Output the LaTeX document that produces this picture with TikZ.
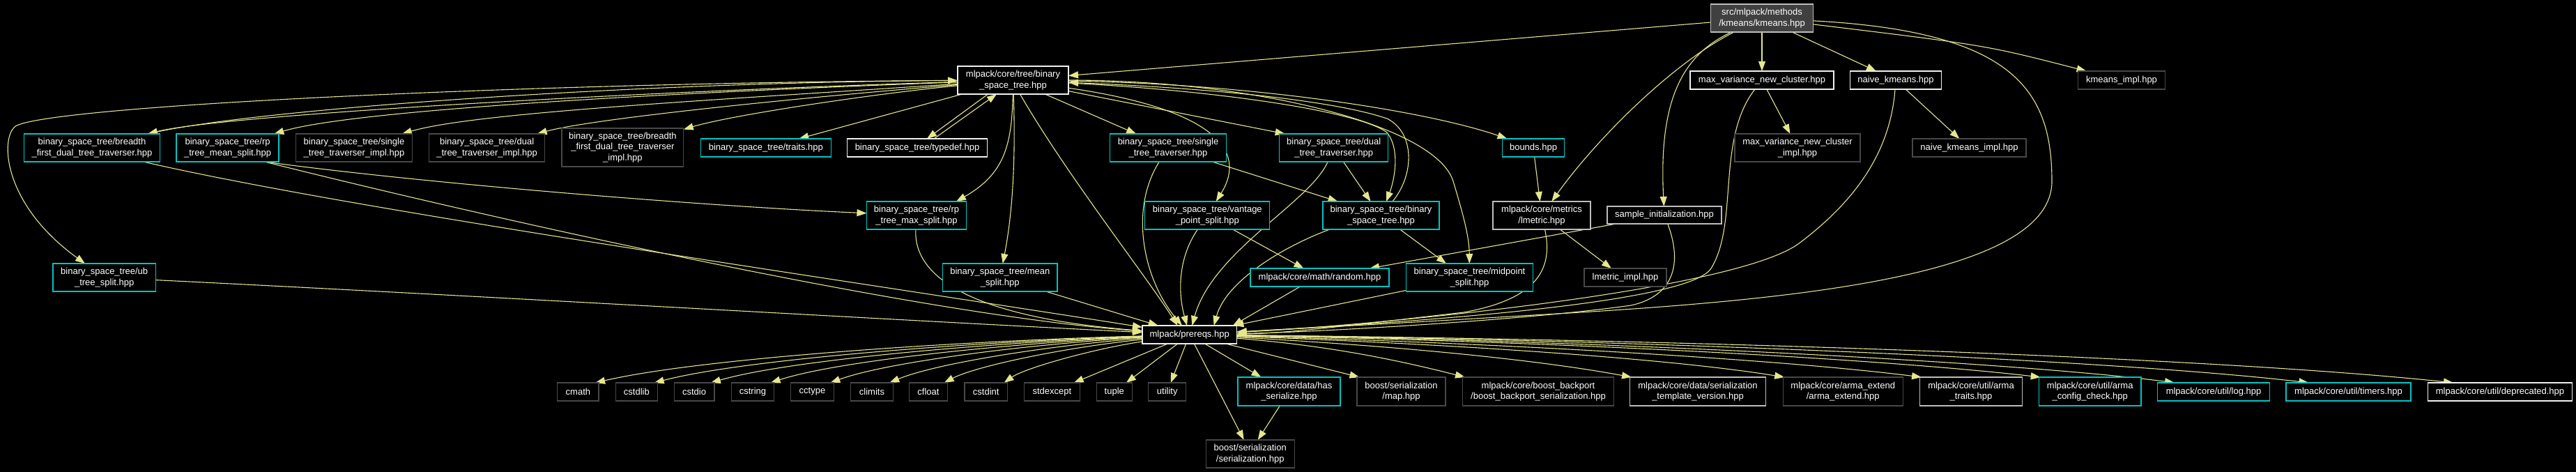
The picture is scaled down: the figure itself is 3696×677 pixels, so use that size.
\documentclass[tikz,border=0pt]{standalone}
\usepackage{fontspec}
\setmainfont{Liberation Sans}
\usetikzlibrary{arrows.meta}
\definecolor{edgecol}{HTML}{E6E68C}
\definecolor{cyanb}{HTML}{00C4C4}
\definecolor{whiteb}{HTML}{F0F0F0}
\definecolor{lgrayb}{HTML}{BDBDBD}
\definecolor{grayb}{HTML}{484848}
\definecolor{rootfill}{HTML}{404040}
\pgfdeclarelayer{back}
\pgfdeclarelayer{edges}
\pgfsetlayers{back,edges,main}
\tikzset{
  nd/.style={rectangle, fill=black, text=white, inner sep=0pt, outer sep=0pt, align=center, line width=1.3pt, font=\fontsize{13}{15.3}\selectfont},
  cyn/.style={nd, draw=cyanb},
  wht/.style={nd, draw=whiteb},
  lgr/.style={nd, draw=lgrayb},
  gry/.style={nd, draw=grayb},
  rootn/.style={nd, draw=lgrayb, fill=rootfill},
  sz/.style 2 args={minimum width=#1pt, minimum height=#2pt},
  e/.style={draw=edgecol, line width=1.1pt, -{Triangle[length=14pt,width=10pt]}},
}
\begin{document}
\begin{tikzpicture}[x=1pt,y=-1pt]
\begin{pgfonlayer}{back}
\fill[black] (0,0) rectangle (3696,677);
\end{pgfonlayer}
\useasboundingbox (0,0) rectangle (3696,677);
% row 0/1
\node[rootn, sz={147}{40}] (kmeans) at (2528,26) {src/mlpack/methods\\/kmeans/kmeans.hpp};
\node[wht, sz={159}{40}] (bst) at (1453.5,115) {mlpack/core/tree/binary\\\_space\_tree.hpp};
\node[wht, sz={206}{26}] (maxvar) at (2528,115) {max\_variance\_new\_cluster.hpp};
\node[wht, sz={131}{26}] (naive) at (2720,115) {naive\_kmeans.hpp};
\node[gry, sz={125}{26}] (kmeansimpl) at (3044,115) {kmeans\_impl.hpp};
% row 2
\node[cyn, sz={194.5}{40}] (bfdt) at (132,212) {binary\_space\_tree/breadth\\\_first\_dual\_tree\_traverser.hpp};
\node[cyn, sz={147}{40}] (rpmean) at (326.6,212) {binary\_space\_tree/rp\\\_tree\_mean\_split.hpp};
\node[gry, sz={167.6}{40}] (singleimpl) at (508,212) {binary\_space\_tree/single\\\_tree\_traverser\_impl.hpp};
\node[gry, sz={165.7}{40}] (dualimpl) at (698.6,212) {binary\_space\_tree/dual\\\_tree\_traverser\_impl.hpp};
\node[gry, sz={174.8}{55}] (bfdtimpl) at (893.4,211.5) {binary\_space\_tree/breadth\\\_first\_dual\_tree\_traverser\\\_impl.hpp};
\node[cyn, sz={187}{26}] (traits) at (1098.8,212) {binary\_space\_tree/traits.hpp};
\node[wht, sz={200.5}{26}] (typedef) at (1316,212) {binary\_space\_tree/typedef.hpp};
\node[cyn, sz={167}{40}] (singletrav) at (1676,212) {binary\_space\_tree/single\\\_tree\_traverser.hpp};
\node[cyn, sz={156}{40}] (dualtrav) at (1913.7,212) {binary\_space\_tree/dual\\\_tree\_traverser.hpp};
\node[cyn, sz={89}{26}] (bounds) at (2200,212) {bounds.hpp};
\node[gry, sz={180}{40}] (maxvarimpl) at (2579,212) {max\_variance\_new\_cluster\\\_impl.hpp};
\node[gry, sz={163}{26}] (naiveimpl) at (2825.5,212) {naive\_kmeans\_impl.hpp};
% row 3
\node[cyn, sz={143}{40}] (rpmax) at (1315,309) {binary\_space\_tree/rp\\\_tree\_max\_split.hpp};
\node[cyn, sz={179}{40}] (vantage) at (1732.3,309) {binary\_space\_tree/vantage\\\_point\_split.hpp};
\node[cyn, sz={167}{40}] (bst2) at (1981.5,309) {binary\_space\_tree/binary\\\_space\_tree.hpp};
\node[lgr, sz={140}{40}] (lmetric) at (2212,309) {mlpack/core/metrics\\/lmetric.hpp};
\node[lgr, sz={164}{25}] (sampleinit) at (2388,308.5) {sample\_initialization.hpp};
% row 4
\node[cyn, sz={147.5}{40}] (ubtree) at (149.7,398) {binary\_space\_tree/ub\\\_tree\_split.hpp};
\node[cyn, sz={164.5}{40}] (meansplit) at (1434.8,398) {binary\_space\_tree/mean\\\_split.hpp};
\node[cyn, sz={199}{26}] (random) at (1893.5,398) {mlpack/core/math/random.hpp};
\node[cyn, sz={182}{40}] (midpoint) at (2108.5,398) {binary\_space\_tree/midpoint\\\_split.hpp};
\node[gry, sz={118}{26}] (lmetricimpl) at (2332,398) {lmetric\_impl.hpp};
% prereqs
\node[wht, sz={135.6}{26}] (prereqs) at (1706.7,480) {mlpack/prereqs.hpp};
% bottom row
\node[gry, sz={59.3}{26}] (cmath) at (829.4,562) {cmath};
\node[gry, sz={60.5}{26}] (cstdlib) at (913.4,562) {cstdlib};
\node[gry, sz={57.7}{26}] (cstdio) at (996,562) {cstdio};
\node[gry, sz={61.3}{26}] (cstring) at (1080,562) {cstring};
\node[gry, sz={61.7}{26}] (cctype) at (1165.5,562) {cctype};
\node[gry, sz={60.5}{26}] (climits) at (1251,562) {climits};
\node[gry, sz={55.3}{26}] (cfloat) at (1332,562) {cfloat};
\node[gry, sz={61.7}{26}] (cstdint) at (1414.7,562) {cstdint};
\node[gry, sz={79.5}{26}] (stdexcept) at (1509.4,562) {stdexcept};
\node[gry, sz={51}{26}] (tuple) at (1598.8,562) {tuple};
\node[gry, sz={54.2}{26}] (utility) at (1674.7,562) {utility};
\node[cyn, sz={147}{41}] (hasser) at (1849.5,561.5) {mlpack/core/data/has\\\_serialize.hpp};
\node[gry, sz={127}{41}] (boostmap) at (2010.5,561.5) {boost/serialization\\/map.hpp};
\node[gry, sz={216.7}{41}] (backport) at (2207,561.5) {mlpack/core/boost\_backport\\/boost\_backport\_serialization.hpp};
\node[lgr, sz={195}{41}] (sertempl) at (2436,561.5) {mlpack/core/data/serialization\\\_template\_version.hpp};
\node[gry, sz={172}{41}] (armaext) at (2644.2,561.5) {mlpack/core/arma\_extend\\/arma\_extend.hpp};
\node[lgr, sz={147}{41}] (armatraits) at (2828,561.5) {mlpack/core/util/arma\\\_traits.hpp};
\node[cyn, sz={146.4}{41}] (armaconfig) at (2998.7,561.5) {mlpack/core/util/arma\\\_config\_check.hpp};
\node[cyn, sz={160.7}{26}] (log) at (3176,562) {mlpack/core/util/log.hpp};
\node[cyn, sz={179}{26}] (timers) at (3369.5,562) {mlpack/core/util/timers.hpp};
\node[wht, sz={207.3}{26}] (deprecated) at (3587,562) {mlpack/core/util/deprecated.hpp};
\node[gry, sz={127}{40}] (boostser) at (1793.7,651) {boost/serialization\\/serialization.hpp};

\begin{pgfonlayer}{edges}
% kmeans
\draw[e] (kmeans) -- (bst);
\draw[e] (kmeans) -- (maxvar);
\draw[e] (kmeans) -- (naive);
\draw[e] (kmeans) .. controls (2850,65) .. (kmeansimpl);
\draw[e] (kmeans) .. controls (2890,45) and (2944,130) .. (2944,260) .. controls (2944,400) and (2550,432) .. (2200,452) .. controls (2000,464) and (1850,472) .. (prereqs);
\draw[e] (kmeans) .. controls (2400,90) and (2290,200) .. (lmetric);
\draw[e] (kmeans) .. controls (2410,80) and (2380,150) .. (sampleinit);
% max_var, naive
\draw[e] (maxvar) -- (maxvarimpl);
\draw[e] (maxvar) .. controls (2462,200) and (2495,320) .. (2455,385) .. controls (2420,440) and (1950,466) .. (prereqs);
\draw[e] (naive) -- (naiveimpl);
\draw[e] (naive) .. controls (2712,220) and (2660,290) .. (2580,350) .. controls (2480,420) and (1950,468) .. (prereqs);
% bst to the left
\draw[e] (bst) .. controls (900,132) and (320,165) .. (bfdt);
\draw[e] (bfdt) .. controls (350,158) and (900,118) .. (bst);
\draw[e] (bst) .. controls (800,118) and (90,150) .. (24,180) .. controls (0,192) and (0,290) .. (ubtree);
\draw[e] (bst) .. controls (900,135) and (500,160) .. (rpmean);
\draw[e] (bst) .. controls (1000,145) and (680,162) .. (singleimpl);
\draw[e] (bst) .. controls (1150,140) and (850,170) .. (dualimpl);
\draw[e] (bst) .. controls (1250,135) and (1050,165) .. (bfdtimpl);
\draw[e] (bst) -- (traits);
\draw[e] ([xshift=-36pt]bst.south) -- ([xshift=14pt]typedef.north);
\draw[e] ([xshift=24pt]typedef.north) -- ([xshift=-23.5pt]bst.south);
% bst down / right
\draw[e] (bst) .. controls (1452,210) and (1440,250) .. ([xshift=57pt]rpmax.north);
\draw[e] (bst) .. controls (1458,250) and (1450,320) .. (meansplit);
\draw[e] ([xshift=10pt]bst.south) .. controls (1530,250) and (1640,390) .. ([xshift=-17pt]prereqs.north);
\draw[e] (bst) -- (singletrav);
\draw[e] (bst) .. controls (1700,150) and (1800,200) .. (vantage);
\draw[e] (bst) -- ([xshift=-70pt]dualtrav.north);
\draw[e] (bst) .. controls (1750,130) and (1950,160) .. (1990,190) .. controls (2010,215) and (2000,260) .. (bst2);
\draw[e] (bst2) .. controls (2030,250) and (2030,190) .. (1990,170) .. controls (1900,140) and (1700,125) .. (bst);
\draw[e] (bst) .. controls (1800,120) and (2050,160) .. (bounds);
\draw[e] (bst) .. controls (1800,115) and (2060,180) .. (2085,260) .. controls (2100,310) and (2108,340) .. (midpoint);
% middle rows
\draw[e] (dualtrav) -- ([xshift=-15pt]bst2.north);
\draw[e] (dualtrav) .. controls (1880,290) and (1740,360) .. (prereqs);
\draw[e] (singletrav) -- ([xshift=-62pt]bst2.north);
\draw[e] (singletrav) .. controls (1620,300) and (1640,400) .. (prereqs);
\draw[e] (vantage) -- ([xshift=-23pt]random.north);
\draw[e] (vantage) .. controls (1690,370) and (1690,420) .. (prereqs);
\draw[e] ([xshift=53pt]rpmean.south) .. controls (600,262) and (1000,295) .. (rpmax);
\draw[e] ([xshift=53pt]rpmean.south) .. controls (650,300) and (1300,450) .. (prereqs);
\draw[e] ([xshift=73.6pt]bfdt.south) .. controls (500,300) and (1200,400) .. (prereqs);
\draw[e] (ubtree) .. controls (700,425) and (1300,460) .. (prereqs);
\draw[e] (rpmax) .. controls (1310,400) and (1400,455) .. (prereqs);
\draw[e] (meansplit) -- ([xshift=-45pt]prereqs.north);
\draw[e] (bst2) -- ([xshift=-33.5pt]midpoint.north);
\draw[e] ([xshift=10pt]bst2.south west) .. controls (1850,350) and (1760,400) .. ([xshift=35pt]prereqs.north);
\draw[e] ([xshift=-28pt]random.south) -- ([xshift=62pt]prereqs.north);
\draw[e] (midpoint) -- (prereqs);
\draw[e] (lmetric) -- ([xshift=-20pt]lmetricimpl.north);
\draw[e] (lmetric) .. controls (2230,390) and (2200,430) .. (2100,448) .. controls (1950,465) and (1850,478) .. (prereqs);
\draw[e] (bounds) -- (lmetric);
\draw[e] (sampleinit) -- ([xshift=71.5pt]random.north);
\draw[e] (sampleinit) .. controls (2415,380) and (2400,425) .. (2340,438) .. controls (2200,458) and (1900,476) .. (prereqs);
% prereqs to the left
\draw[e] (prereqs) .. controls (1350,490) and (1000,515) .. ([xshift=-5pt]cmath.north east);
\draw[e] (prereqs) .. controls (1380,491) and (1065,516) .. ([xshift=-5pt]cstdlib.north east);
\draw[e] (prereqs) .. controls (1410,492) and (1130,517) .. ([xshift=-5pt]cstdio.north east);
\draw[e] (prereqs) .. controls (1440,493) and (1200,518) .. ([xshift=-5pt]cstring.north east);
\draw[e] (prereqs) .. controls (1470,494) and (1270,520) .. ([xshift=-5pt]cctype.north east);
\draw[e] (prereqs) .. controls (1500,496) and (1340,522) .. ([xshift=-5pt]climits.north east);
\draw[e] (prereqs) .. controls (1530,498) and (1400,525) .. ([xshift=-5pt]cfloat.north east);
\draw[e] (prereqs) .. controls (1570,500) and (1470,528) .. ([xshift=-5pt]cstdint.north east);
\draw[e] (prereqs) -- (stdexcept);
\draw[e] (prereqs) -- (tuple);
\draw[e] (prereqs) -- (utility);
% prereqs down / right
\draw[e] (prereqs) -- ([xshift=-9pt]boostser.north);
\draw[e] (prereqs) -- ([xshift=-40pt]hasser.north);
\draw[e] (hasser) -- ([xshift=11pt]boostser.north);
\draw[e] (prereqs) -- ([xshift=-60pt]boostmap.north);
\draw[e] (prereqs) .. controls (1900,495) and (2000,515) .. ([xshift=-105pt]backport.north);
\draw[e] (prereqs) .. controls (2000,496) and (2200,515) .. ([xshift=-95pt]sertempl.north);
\draw[e] (prereqs) .. controls (2100,494) and (2400,515) .. ([xshift=-84pt]armaext.north);
\draw[e] (prereqs) .. controls (2150,492) and (2550,515) .. ([xshift=-71pt]armatraits.north);
\draw[e] (prereqs) .. controls (2250,490) and (2700,515) .. ([xshift=-71pt]armaconfig.north);
\draw[e] (prereqs) .. controls (2300,488) and (2900,520) .. ([xshift=-56pt]log.north);
\draw[e] (prereqs) .. controls (2400,488) and (3050,518) .. ([xshift=-57pt]timers.north);
\draw[e] (prereqs) .. controls (2500,488) and (3200,515) .. ([xshift=-67pt]deprecated.north);
\end{pgfonlayer}
\end{tikzpicture}
\end{document}
